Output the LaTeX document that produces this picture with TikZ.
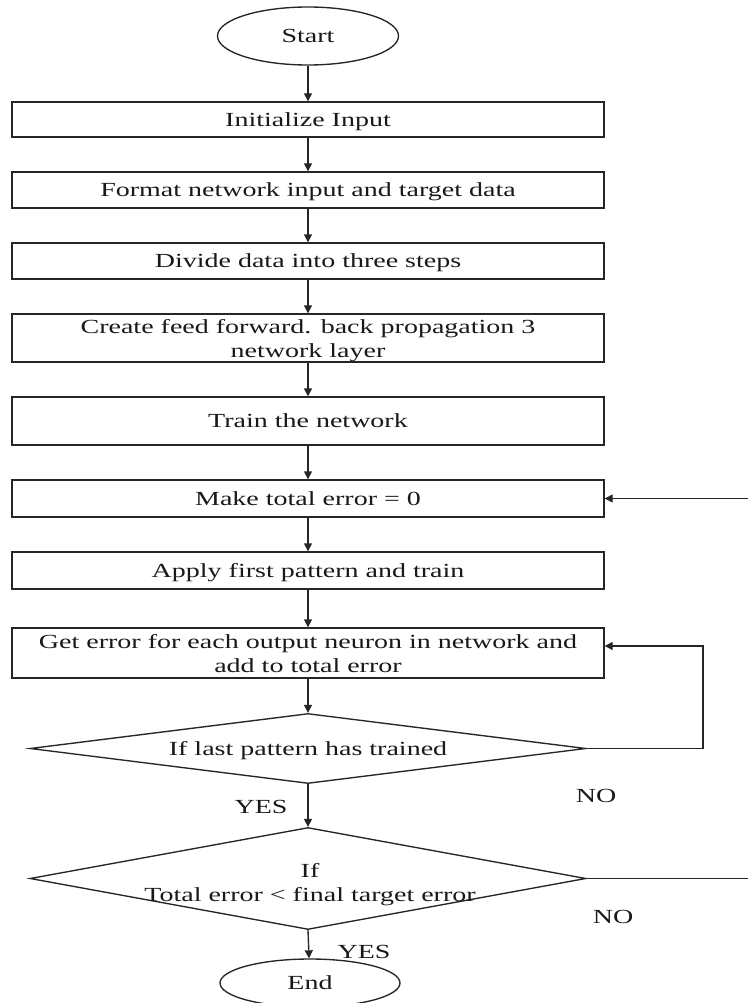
\documentclass[tikz,border=0pt]{standalone}
\usepackage{fontspec}
\setmainfont{Liberation Serif}[FakeStretch=1.40]
\usetikzlibrary{shapes.geometric,arrows.meta}
\begin{document}
\begin{tikzpicture}[x=1pt,y=-1pt,
  every node/.style={font=\fontsize{20}{24}\selectfont, inner sep=0pt, text=black!90},
  procbox/.style={draw=black!85, line width=1.35pt, rectangle, minimum width=592pt, text depth=0pt},
  term/.style={draw=black!85, line width=1.35pt, ellipse, minimum width=181pt, minimum height=58pt, text depth=0pt},
  decision/.style={draw=black!85, line width=1.35pt, diamond, minimum width=556pt},
  conn/.style={draw=black!85, line width=1.35pt},
  arr/.style={conn, -{Triangle[length=8pt,width=8pt]}},
]
\useasboundingbox (0,0) rectangle (748,1003);
\fill[white] (0,0) rectangle (748,1003);

\node[term] (start) at (308,36) {Start};
\node[procbox, minimum height=35pt] (b1) at (308,119.5) {Initialize Input};
\node[procbox, minimum height=36pt] (b2) at (308,190) {Format network input and target data};
\node[procbox, minimum height=36pt] (b3) at (308,261) {Divide data into three steps};
\node[procbox, minimum height=48pt, align=center] (b4) at (308,338) {Create feed forward. back propagation 3\\network layer};
\node[procbox, minimum height=48pt] (b5) at (308,421) {Train the network};
\node[procbox, minimum height=37pt] (b6) at (308,498.5) {Make total error = 0};
\node[procbox, minimum height=37pt] (b7) at (308,570.5) {Apply first pattern and train};
\node[procbox, minimum height=50pt, align=center] (b8) at (308,653) {Get error for each output neuron in network and\\add to total error};
\node[decision, minimum height=70pt] (d1) at (308,748.5) {};
\node[text depth=0pt] (t1) at (d1.center) {If last pattern has trained};
\node[decision, minimum height=102pt] (d2) at (308,878.5) {};
\node[align=center] (t2) at (310,885) {If\\Total error < final target error};
\node[term, minimum width=180pt, minimum height=48pt] (end) at (310,983) {End};

\node[anchor=base] (yes1) at (261,813) {YES};
\node[anchor=base] (no1) at (596,802) {NO};
\node[anchor=base] (no2) at (613,923) {NO};
\node[anchor=base] (yes2) at (364,958) {YES};

\draw[arr] (start) -- (b1);
\draw[arr] (b1) -- (b2);
\draw[arr] (b2) -- (b3);
\draw[arr] (b3) -- (b4);
\draw[arr] (b4) -- (b5);
\draw[arr] (b5) -- (b6);
\draw[arr] (b6) -- (b7);
\draw[arr] (b7) -- (b8);
\draw[arr] (b8) -- (d1.north);
\draw[arr] (d1.south) -- (d2.north);
\draw[arr] (d2.south) -- (end);

\coordinate (c1) at (703,646);
\draw[arr] (d1.east) -| (c1) -- ([yshift=7pt]b8.east);
\coordinate (e1) at (748,498.5);
\draw[arr] (e1) -- (b6.east);
\coordinate (e2) at (748,878.5);
\draw[conn] (d2.east) -- (e2);
\end{tikzpicture}
\end{document}
